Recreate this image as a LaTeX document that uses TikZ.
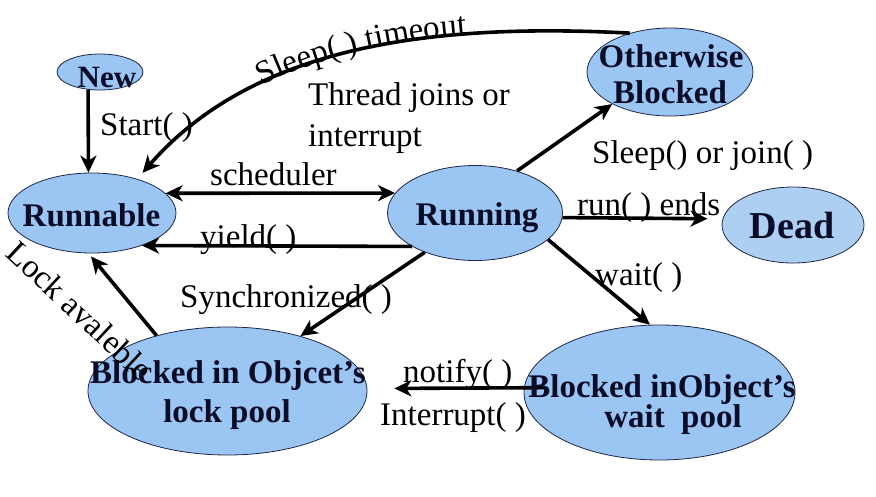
\documentclass[tikz,border=0pt]{standalone}
\usepackage{fontspec}
\setmainfont{Liberation Serif}
\usetikzlibrary{arrows.meta,shapes.geometric,decorations.text}
\definecolor{stfill}{RGB}{155,197,242}
\definecolor{deadfill}{RGB}{172,207,242}
\definecolor{stline}{RGB}{30,40,70}
\definecolor{sttext}{RGB}{10,12,40}
\newcommand{\lblsize}{\fontsize{33}{36}\selectfont}
\begin{document}
\begin{tikzpicture}[x=1pt,y=-1pt,
  state/.style={ellipse, draw=stline, line width=0.8pt, fill=stfill, inner sep=0pt},
  stxt/.style={font=\fontsize{33}{36}\selectfont\bfseries, text=sttext, anchor=base, inner sep=0pt},
  lbl/.style={font=\lblsize, anchor=base west, inner sep=0pt},
  tip/.tip={Stealth[length=17pt,width=16pt,inset=5pt]},
  arr/.style={line width=3.6pt, -tip},
  darr/.style={line width=3.6pt, tip-tip},
]
\fill[white] (0,0) rectangle (876,496);
\path[use as bounding box] (0,0) rectangle (876,496);

% states
\node[state, minimum width=86pt, minimum height=36pt] (new) at (100,72) {};
\node[state, minimum width=166pt, minimum height=88pt] (ob) at (670,72) {};
\node[state, minimum width=168pt, minimum height=80pt] (rble) at (92,213) {};
\node[state, minimum width=175pt, minimum height=95pt] (rng) at (475,213) {};
\node[state, fill=deadfill, minimum width=142pt, minimum height=76pt] (dead) at (793,225) {};
\node[state, minimum width=279pt, minimum height=128pt] (lock) at (227.5,391) {};
\node[state, minimum width=271pt, minimum height=135pt] (wait) at (659.5,392.5) {};

% connectors
\draw[arr] (new.236) -- (rble.95);
\draw[arr, shorten >=8pt] (ob.136) .. controls (420,22) and (250,50) .. (rble.37);
\draw[darr] (rble.15) -- (rng.166);
\draw[arr] (rng.208) -- (rble.-33);
\draw[arr] (rng.45) -- (ob.209);
\draw[arr, shorten >=15pt] (rng.-3) -- (dead.175);
\draw[arr] (rng.-20) -- (wait.98);
\draw[arr] (rng.218) -- (lock.37);
\draw[arr, shorten >=4pt] (lock.142) -- (rble.265);
\draw[arr, shorten <=-21pt, shorten >=27pt] (wait.178) -- (lock.1);

% state texts
\node[stxt, font=\fontsize{31}{34}\selectfont\bfseries] (newT) at (107,87) {New};
\node[stxt] (obT1) at (671,67) {Otherwise};
\node[stxt] (obT2) at (670,103) {Blocked};
\node[stxt] (rbleT) at (91.5,226) {Runnable};
\node[stxt] (rngT) at (477,225) {Running};
\node[stxt, font=\fontsize{38}{40}\selectfont\bfseries] (deadT) at (792,238) {Dead};
\node[stxt] (lockT1) at (228,383) {Blocked in Objcet’s};
\node[stxt] (lockT2) at (227,422) {lock pool};
\node[stxt] (waitT1) at (662,397) {Blocked inObject’s};
\node[stxt] (waitT2) at (673,427) {wait~~pool};

% labels
\node[lbl] (l1) at (100,135) {Start( )};
\node[lbl] (l2) at (308,105) {Thread joins or};
\node[lbl] (l3) at (308,146) {interrupt};
\node[lbl] (l4) at (210,185) {scheduler};
\node[lbl] (l5) at (200,247) {yield( )};
\node[lbl] (l6) at (180,307) {Synchronized( )};
\node[lbl] (l7) at (592,163) {Sleep() or join( )};
\node[lbl] (l8) at (577,215) {run( ) ends};
\node[lbl] (l9) at (595,285) {wait( )};
\node[lbl] (l10) at (403,382) {notify( )};
\node[lbl] (l11) at (380,425) {Interrupt( )};
\node[lbl, anchor=center, rotate=-43] (l12) at (80,311) {Lock avaleble};
\path[postaction={decorate}, decoration={text along path, text={|\lblsize|Sleep( ) timeout}, text align={left indent=157pt}, raise=-1pt}]
  (rble.37) .. controls (250,50) and (420,22) .. (ob.136);
\end{tikzpicture}
\end{document}
